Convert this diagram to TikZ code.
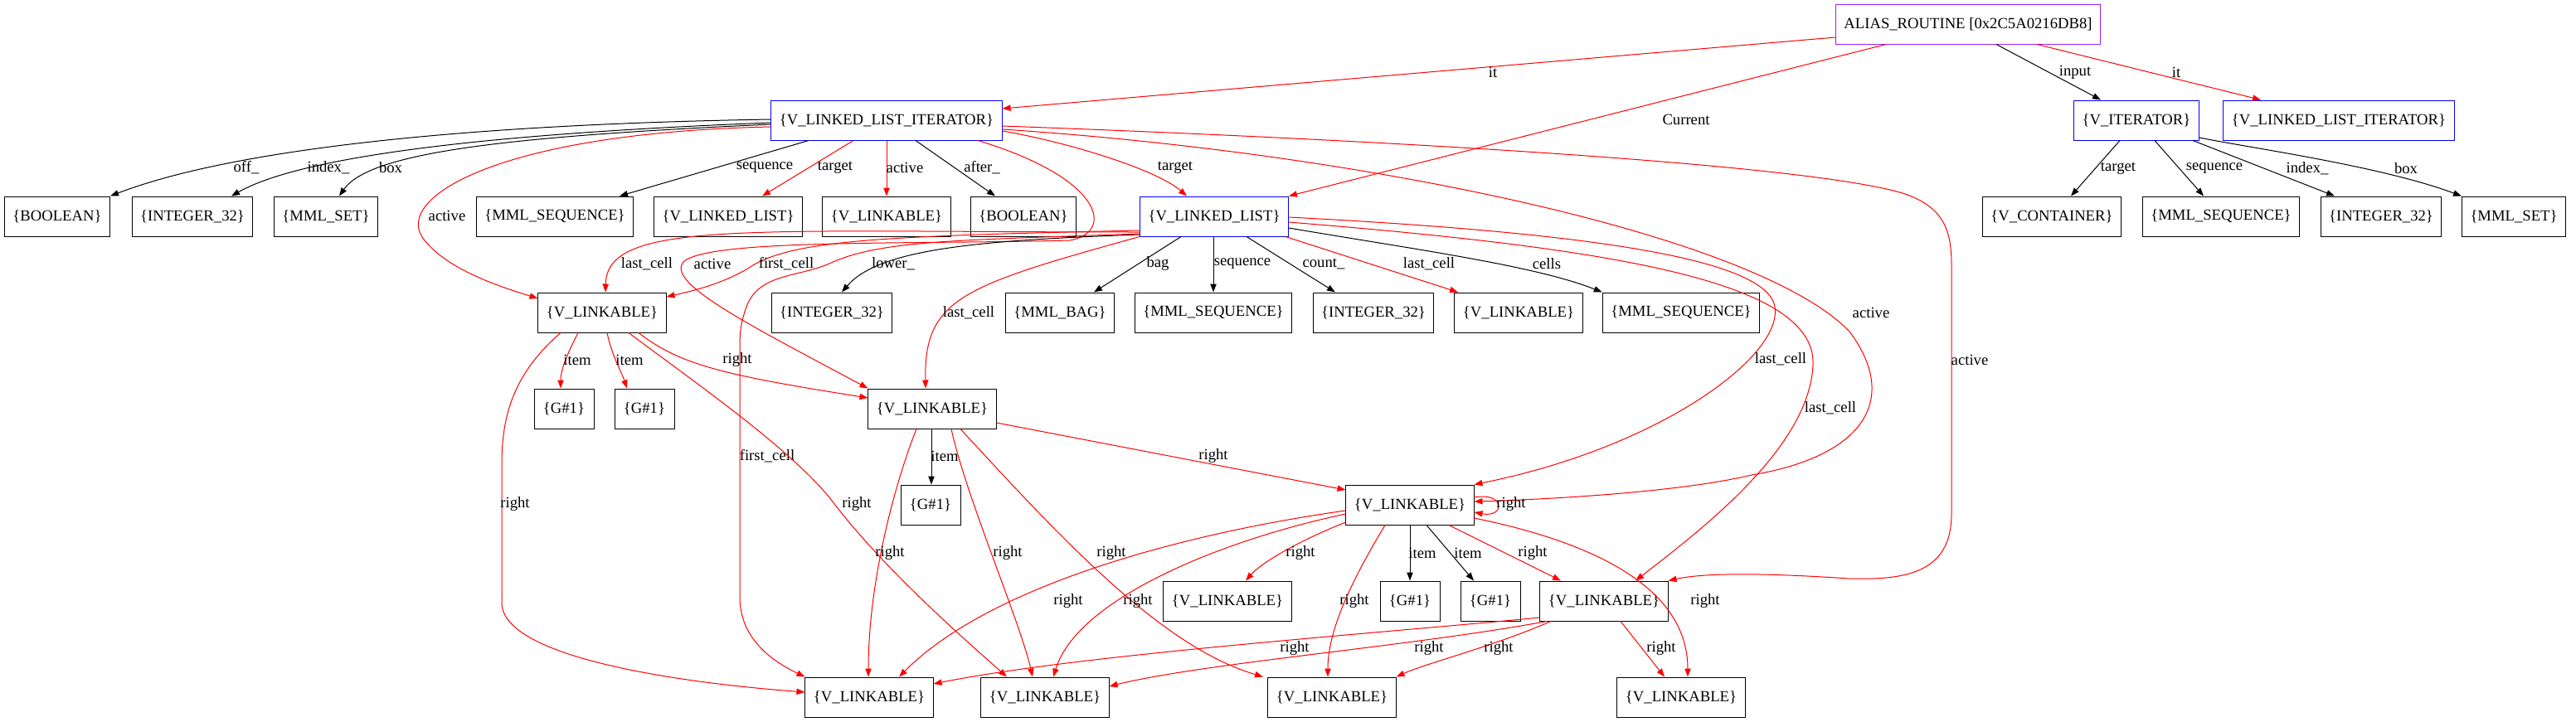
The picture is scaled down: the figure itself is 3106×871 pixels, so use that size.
\documentclass[tikz,border=0pt]{standalone}
\usepackage{fontspec}
\setmainfont{Liberation Serif}
\usetikzlibrary{arrows.meta}
\definecolor{gvpurple}{RGB}{160,32,240}
\newcommand{\gvfont}{\fontsize{14pt}{16pt}\selectfont}
\begin{document}
\begin{tikzpicture}[x=0.75pt,y=-0.75pt,
  gvbox/.style={draw, rectangle, font=\gvfont, inner xsep=7.5pt, inner ysep=0pt, minimum height=36pt, minimum width=54pt, line width=0.75pt},
  bluebox/.style={gvbox, draw=blue},
  purplebox/.style={gvbox, draw=gvpurple},
  blk/.style={-{Triangle[length=7.5pt,width=5.5pt]}, line width=0.75pt, black},
  redge/.style={blk, red},
  lbl/.style={font=\gvfont, inner sep=0pt, text=black}]
\useasboundingbox (0,0) rectangle (3106,871);
% row 0
\node[purplebox] (alias) at (2373,29) {ALIAS\_ROUTINE [0x2C5A0216DB8]};
% row 1
\node[bluebox] (lli) at (1069,145) {\{V\_LINKED\_LIST\_ITERATOR\}};
\node[bluebox] (viter) at (2576,145) {\{V\_ITERATOR\}};
\node[bluebox] (lli2) at (2820,145) {\{V\_LINKED\_LIST\_ITERATOR\}};
% row 2
\node[gvbox] (bool1) at (69,261) {\{BOOLEAN\}};
\node[gvbox] (int1) at (232,261) {\{INTEGER\_32\}};
\node[gvbox] (mset1) at (393,261) {\{MML\_SET\}};
\node[gvbox] (mseq1) at (669,261) {\{MML\_SEQUENCE\}};
\node[gvbox] (vll1) at (878,261) {\{V\_LINKED\_LIST\}};
\node[gvbox] (vlk0) at (1069,261) {\{V\_LINKABLE\}};
\node[gvbox] (bool2) at (1234,261) {\{BOOLEAN\}};
\node[bluebox] (ll) at (1464,261) {\{V\_LINKED\_LIST\}};
\node[gvbox] (vcont) at (2474,261) {\{V\_CONTAINER\}};
\node[gvbox] (mseq3) at (2678,261) {\{MML\_SEQUENCE\}};
\node[gvbox] (int3) at (2871,261) {\{INTEGER\_32\}};
\node[gvbox] (mset3) at (3031,261) {\{MML\_SET\}};
% row 3
\node[gvbox] (A) at (726,377) {\{V\_LINKABLE\}};
\node[gvbox] (int2) at (1003,377) {\{INTEGER\_32\}};
\node[gvbox] (mbag) at (1278,377) {\{MML\_BAG\}};
\node[gvbox] (mseq2) at (1463,377) {\{MML\_SEQUENCE\}};
\node[gvbox] (int4) at (1656,377) {\{INTEGER\_32\}};
\node[gvbox] (vlk3) at (1831,377) {\{V\_LINKABLE\}};
\node[gvbox] (mseq4) at (2027,377) {\{MML\_SEQUENCE\}};
% row 4
\node[gvbox] (ga) at (680,493) {\{G\#1\}};
\node[gvbox] (gb) at (777,493) {\{G\#1\}};
\node[gvbox] (B) at (1124,493) {\{V\_LINKABLE\}};
% row 5
\node[gvbox] (gc) at (1122,609) {\{G\#1\}};
\node[gvbox] (C) at (1700,609) {\{V\_LINKABLE\}};
% row 6
\node[gvbox] (D) at (1480,725) {\{V\_LINKABLE\}};
\node[gvbox] (gd) at (1700,725) {\{G\#1\}};
\node[gvbox] (ge) at (1797,725) {\{G\#1\}};
\node[gvbox] (E) at (1934,725) {\{V\_LINKABLE\}};
% row 7
\node[gvbox] (F) at (1048,841) {\{V\_LINKABLE\}};
\node[gvbox] (G) at (1260,841) {\{V\_LINKABLE\}};
\node[gvbox] (H) at (1606,841) {\{V\_LINKABLE\}};
\node[gvbox] (I) at (2027,841) {\{V\_LINKABLE\}};

% ALIAS edges
\draw[redge] (alias.west |- 0,45) -- (lli.east |- 0,131) node[lbl,at={(1800,87)}]{it};
\draw[redge] (alias.south -| 2274,0) -- (ll.north east) node[lbl,at={(2033,144)}]{Current};
\draw[blk] (alias.south -| 2407,0) -- (viter.north -| 2533,0) node[lbl,at={(2502,87)}]{input};
\draw[redge] (alias.south -| 2456,0) -- (lli2.north -| 2726,0) node[lbl,at={(2624,87)}]{it};
% V_ITERATOR edges
\draw[blk] (viter.south -| 2556,0) -- (vcont.north -| 2497,0) node[lbl,at={(2554,203)}]{target};
\draw[blk] (viter.south -| 2598,0) -- (mseq3.north -| 2657,0) node[lbl,at={(2670,203)}]{sequence};
\draw[blk] (viter.south -| 2644,0) -- (int3.north -| 2815,0) node[lbl,at={(2782,203)}]{index\_};
\draw[blk] (viter.east |- 0,166) .. controls (2710,178) and (2870,200) .. (mset3.north west) node[lbl,at={(2901,203)}]{box};
% LLI edges
\draw[blk] (lli.west |- 0,144) .. controls (560,150) and (280,180) .. (bool1.north east) node[lbl,at={(297,202)}]{off\_};
\draw[blk] (lli.west |- 0,148) .. controls (620,160) and (370,185) .. (int1.north -| 279,0) node[lbl,at={(396,202)}]{index\_};
\draw[blk] (lli.west |- 0,150) .. controls (600,165) and (445,185) .. (mset1.north -| 409,0) node[lbl,at={(471,202)}]{box};
\draw[blk] (lli.south -| 975,0) -- (mseq1.north -| 747,0) node[lbl,at={(922,202)}]{sequence};
\draw[redge] (lli.south -| 1029,0) -- (vll1.north -| 919,0) node[lbl,at={(1007,202)}]{target};
\draw[redge] (lli.south) -- (vlk0.north) node[lbl,at={(1091,202)}]{active};
\draw[blk] (lli.south -| 1104,0) -- (bool2.north -| 1200,0) node[lbl,at={(1184,202)}]{after\_};
\draw[redge] (lli.east |- 0,158) .. controls (1290,172) and (1395,205) .. (ll.north -| 1431,0) node[lbl,at={(1417,202)}]{target};
\draw[redge] (lli.west |- 0,153) .. controls (600,160) and (470,240) .. (512,290) .. controls (540,325) and (600,345) .. (A.west |- 0,360) node[lbl,at={(539,260)}]{active};
\draw[redge] (lli.south -| 1179,0) .. controls (1330,215) and (1345,280) .. (1290,290) .. controls (1100,295) and (860,288) .. (825,315) .. controls (800,340) and (900,390) .. (B.north west) node[lbl,at={(859,318)}]{active};
\draw[redge] (lli.east |- 0,156) .. controls (1650,185) and (2120,285) .. (2230,400) .. controls (2290,480) and (2250,550) .. (2112,573) .. controls (2020,595) and (1850,603) .. (C.east |- 0,605) node[lbl,at={(2256,377)}]{active};
\draw[redge] (lli.east |- 0,152) .. controls (1700,170) and (2200,200) .. (2300,235) .. controls (2345,252) and (2353,280) .. (2353,320) -- (2353,620) .. controls (2353,690) and (2300,700) .. (2230,698) .. controls (2140,692) and (2060,690) .. (E.north east) node[lbl,at={(2375,434)}]{active};
% LL edges
\draw[blk] (ll.south -| 1424,0) -- (mbag.north -| 1319,0) node[lbl,at={(1396,318)}]{bag};
\draw[blk] (ll.south -| 1463,0) -- (mseq2.north) node[lbl,at={(1498,318)}]{sequence};
\draw[blk] (ll.south -| 1503,0) -- (int4.north -| 1610,0) node[lbl,at={(1596,318)}]{count\_};
\draw[redge] (ll.south -| 1550,0) -- (vlk3.north -| 1758,0) node[lbl,at={(1723,318)}]{last\_cell};
\draw[blk] (ll.east |- 0,275) .. controls (1700,300) and (1850,320) .. (mseq4.north west) node[lbl,at={(1865,318)}]{cells};
\draw[blk] (ll.west |- 0,283) .. controls (1180,290) and (1060,300) .. (int2.north -| 1015,0) node[lbl,at={(1077,318)}]{lower\_};
\draw[redge] (ll.south west) .. controls (1160,345) and (1114,360) .. (B.north -| 1116,0) node[lbl,at={(1168,377)}]{last\_cell};
\draw[redge] (ll.west |- 0,280) .. controls (900,280) and (732,265) .. (A.north -| 730,0) node[lbl,at={(780,318)}]{last\_cell};
\draw[redge] (ll.west |- 0,278) .. controls (1050,285) and (950,290) .. (900,325) .. controls (870,342) and (840,350) .. (A.east |- 0,358) node[lbl,at={(948,318)}]{first\_cell};
\draw[redge] (ll.west |- 0,282) .. controls (1150,290) and (1060,290) .. (1000,318) .. controls (960,335) and (915,330) .. (900,370) .. controls (893,390) and (892,400) .. (892,420) -- (892,720) .. controls (892,770) and (930,797) .. (F.north west) node[lbl,at={(925,550)}]{first\_cell};
\draw[redge] (ll.east |- 0,262) .. controls (1900,280) and (2130,310) .. (2140,370) .. controls (2150,430) and (2000,540) .. (C.north east) node[lbl,at={(2147,433)}]{last\_cell};
\draw[redge] (ll.east |- 0,268) .. controls (1950,300) and (2190,340) .. (2186,440) .. controls (2182,540) and (2050,640) .. (E.north -| 1972,0) node[lbl,at={(2207,492)}]{last\_cell};
% A edges
\draw[redge] (A.south -| 697,0) .. controls (685,425) and (676,445) .. (ga.north -| 676,0) node[lbl,at={(696,434)}]{item};
\draw[redge] (A.south -| 732,0) .. controls (738,430) and (750,450) .. (gb.north -| 756,0) node[lbl,at={(759,434)}]{item};
\draw[redge] (A.south -| 770,0) .. controls (820,440) and (870,452) .. (B.west |- 0,480) node[lbl,at={(889,434)}]{right};
\draw[redge] (A.south -| 676,0) .. controls (620,450) and (605,500) .. (605,560) -- (605,727) .. controls (605,790) and (800,822) .. (F.west |- 0,835) node[lbl,at={(621,608)}]{right};
\draw[redge] (A.south -| 758,0) .. controls (850,470) and (950,540) .. (1000,600) .. controls (1060,680) and (1150,760) .. (G.north -| 1214,0) node[lbl,at={(1033,608)}]{right};
% B edges
\draw[blk] (B.south -| 1123,0) -- (gc.north -| 1123,0) node[lbl,at={(1139,550)}]{item};
\draw[redge] (B.east |- 0,510) -- (C.west |- 0,591) node[lbl,at={(1463,550)}]{right};
\draw[redge] (B.south -| 1105,0) .. controls (1080,580) and (1047,700) .. (F.north -| 1047,0) node[lbl,at={(1073,667)}]{right};
\draw[redge] (B.south -| 1147,0) .. controls (1165,600) and (1230,750) .. (G.north -| 1245,0) node[lbl,at={(1215,667)}]{right};
\draw[redge] (B.south -| 1158,0) .. controls (1280,650) and (1400,780) .. (H.north -| 1523,0) node[lbl,at={(1340,667)}]{right};
% C edges
\draw[redge] (C.east |- 0,600) .. controls (1815,593) and (1815,625) .. (C.east |- 0,618) node[lbl,at={(1822,608)}]{right};
\draw[blk] (C.south) -- (gd.north) node[lbl,at={(1715,667)}]{item};
\draw[blk] (C.south -| 1720,0) -- (ge.north -| 1777,0) node[lbl,at={(1770,667)}]{item};
\draw[redge] (C.south -| 1747,0) -- (E.north -| 1882,0) node[lbl,at={(1848,667)}]{right};
\draw[redge] (C.west |- 0,630) .. controls (1560,655) and (1520,680) .. (D.north -| 1502,0) node[lbl,at={(1568,667)}]{right};
\draw[redge] (C.south -| 1670,0) .. controls (1630,700) and (1601,760) .. (H.north -| 1601,0) node[lbl,at={(1633,725)}]{right};
\draw[redge] (C.east |- 0,625) .. controls (1900,650) and (2035,700) .. (I.north -| 2035,0) node[lbl,at={(2056,725)}]{right};
\draw[redge] (C.west |- 0,616) .. controls (1450,640) and (1200,700) .. (F.north -| 1084,0) node[lbl,at={(1288,725)}]{right};
\draw[redge] (C.west |- 0,620) .. controls (1480,650) and (1300,720) .. (G.north -| 1270,0) node[lbl,at={(1372,725)}]{right};
% E edges
\draw[redge] (E.west |- 0,745) .. controls (1650,765) and (1300,790) .. (F.east |- 0,825) node[lbl,at={(1561,782)}]{right};
\draw[redge] (E.south -| 1865,0) .. controls (1700,780) and (1450,800) .. (G.east |- 0,828) node[lbl,at={(1723,782)}]{right};
\draw[redge] (E.south -| 1870,0) .. controls (1800,780) and (1720,800) .. (H.north east) node[lbl,at={(1807,782)}]{right};
\draw[redge] (E.south -| 1954,0) -- (I.north -| 2007,0) node[lbl,at={(2003,782)}]{right};
\end{tikzpicture}
\end{document}
